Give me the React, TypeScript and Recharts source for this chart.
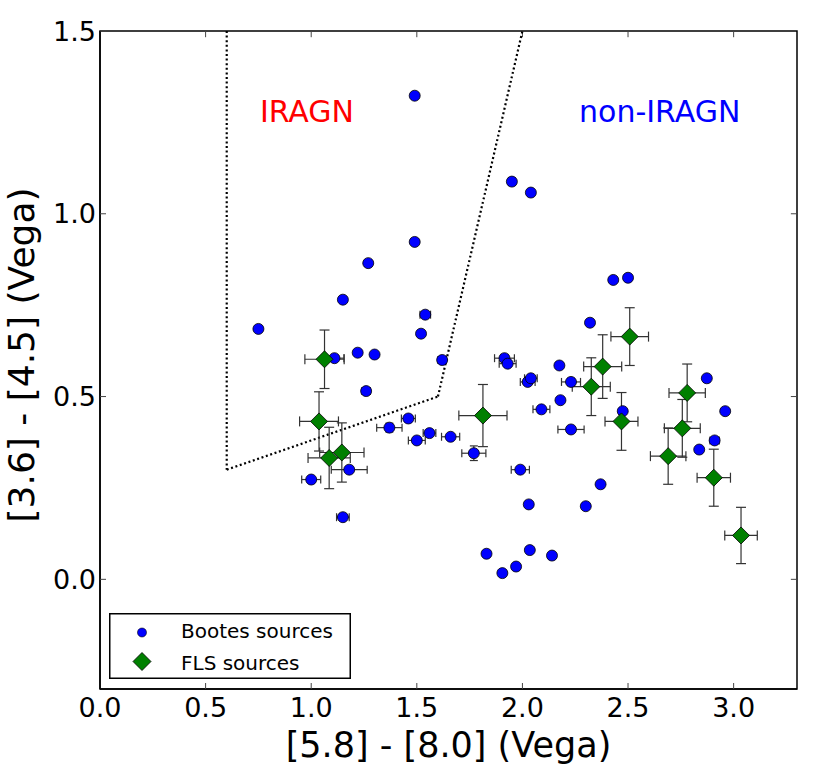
import {
  ScatterChart, Scatter, XAxis, YAxis, ErrorBar, ReferenceLine, ReferenceDot, ReferenceArea, Legend
} from 'recharts'

const FONT = '"DejaVu Sans", "Bitstream Vera Sans", sans-serif'

// Bootes sources
const bootesX = [
  0.75, 1.00, 1.11, 1.15, 1.15, 1.18, 1.22, 1.26, 1.27, 1.30,
  1.37, 1.46, 1.49, 1.49, 1.50, 1.52, 1.54, 1.56, 1.62, 1.66,
  1.77, 1.83, 1.905, 1.915, 1.93, 1.95, 1.97, 1.99, 2.025, 2.03,
  2.035, 2.04, 2.04, 2.09, 2.14, 2.175, 2.18, 2.23, 2.23, 2.30,
  2.32, 2.37, 2.43, 2.475, 2.50, 2.837, 2.873, 2.91, 2.96,
]
const bootesY = [
  0.685, 0.273, 0.605, 0.765, 0.17, 0.30, 0.62, 0.515, 0.865, 0.615,
  0.415, 0.44, 1.323, 0.923, 0.38, 0.672, 0.724, 0.40, 0.60, 0.39,
  0.345, 0.07, 0.017, 0.605, 0.59, 1.088, 0.035, 0.30, 0.54, 0.205,
  0.08, 0.55, 1.058, 0.465, 0.065, 0.585, 0.49, 0.54, 0.41, 0.20,
  0.702, 0.26, 0.819, 0.46, 0.825, 0.355, 0.55, 0.38, 0.46,
]
const bootesXErr = [
  0, 0.045, 0.045, 0, 0.03, 0.085, 0, 0.02, 0.015, 0,
  0.06, 0.033, 0, 0, 0.04, 0, 0.025, 0.03, 0.02, 0.043,
  0.057, 0, 0, 0.047, 0.04, 0.015, 0, 0.043, 0.035, 0,
  0, 0.03, 0, 0.04, 0, 0, 0, 0.045, 0.062, 0,
  0, 0, 0, 0, 0, 0, 0, 0.022, 0,
]
const bootesYErr = [
  0, 0, 0, 0, 0, 0, 0, 0, 0, 0,
  0.012, 0, 0, 0, 0, 0, 0, 0, 0, 0,
  0.02, 0, 0, 0.01, 0, 0.01, 0, 0, 0, 0,
  0, 0, 0, 0, 0, 0, 0, 0.01, 0, 0,
  0, 0, 0, 0, 0, 0, 0, 0, 0,
]

// FLS sources
const flsX = [1.063, 1.037, 1.085, 1.145, 1.813, 2.326, 2.38, 2.469, 2.508, 2.69, 2.757, 2.78, 2.906, 3.035]
const flsY = [0.602, 0.432, 0.332, 0.347, 0.448, 0.527, 0.582, 0.432, 0.664, 0.337, 0.413, 0.51, 0.278, 0.12]
const flsXErr = [0.093, 0.092, 0.10, 0.105, 0.114, 0.09, 0.09, 0.078, 0.089, 0.084, 0.085, 0.086, 0.079, 0.077]
const flsYErr = [0.08, 0.081, 0.084, 0.081, 0.085, 0.079, 0.087, 0.079, 0.079, 0.077, 0.079, 0.079, 0.078, 0.077]

// IRAGN wedge vertices
const wedgeX = [0.6, 0.6, 1.6, 2.0]
const wedgeY = [1.5, 0.3, 0.5, 1.5]

const xDomain = [0, 3.3]
const yDomain = [-0.3, 1.5]
const xTicks = [0, 0.5, 1.0, 1.5, 2.0, 2.5, 3.0]
const yTicks = [0, 0.5, 1.0, 1.5]

const bootes = bootesX.map((x, i) => ({ x, y: bootesY[i], xErr: bootesXErr[i], yErr: bootesYErr[i] }))
const fls = flsX.map((x, i) => ({ x, y: flsY[i], xErr: flsXErr[i], yErr: flsYErr[i] }))
const wedge = wedgeX.slice(1).map((x, i) => [
  { x: wedgeX[i], y: wedgeY[i] },
  { x, y: wedgeY[i + 1] },
])

// inward tick marks on the top and right edges (about 6px long)
const topTicks = xTicks.slice(1).map((t) => [
  { x: t, y: yDomain[1] }, { x: t, y: yDomain[1] - 0.017 },
])
const rightTicks = yTicks.slice(0, -1).map((t) => [
  { x: xDomain[1], y: t }, { x: xDomain[1] - 0.029, y: t },
])

const Circle = (p: any) => (
  <circle cx={p.cx} cy={p.cy} r={5.5} fill="#0000ff" stroke="#000" strokeWidth={0.8} />
)

const Diamond = (p: any) => {
  const s = 8.5
  return (
    <polygon
      points={`${p.cx},${p.cy - s} ${p.cx + s},${p.cy} ${p.cx},${p.cy + s} ${p.cx - s},${p.cy}`}
      fill="#008000" stroke="#000" strokeWidth={0.8}
    />
  )
}

const YLabel = (props: any) => {
  const vb = props.viewBox
  const cx = vb.x + 34
  const cy = vb.y + vb.height / 2 - 5
  return (
    <text x={cx} y={cy} transform={`rotate(-90 ${cx} ${cy})`} textAnchor="middle"
      fontSize={36} fontFamily={FONT} fill="#000">
      [3.6] - [4.5] (Vega)
    </text>
  )
}

const LegendBox = () => (
  <svg width={242} height={66} style={{ display: 'block' }}>
    <rect x={0.75} y={0.75} width={240.5} height={64.5} fill="#fff" stroke="#000" strokeWidth={1.5} />
    <circle cx={33} cy={19.5} r={4.5} fill="#0000ff" stroke="#000" strokeWidth={0.6} />
    <text x={72} y={25} fontSize={20} fontFamily={FONT} fill="#000">Bootes sources</text>
    <polygon points="33,39.5 42,48.5 33,57.5 24,48.5" fill="#008000" stroke="#000" strokeWidth={0.8} />
    <text x={72} y={57} fontSize={20} fontFamily={FONT} fill="#000">FLS sources</text>
  </svg>
)

const tickStyle = { fontSize: 27, fill: '#000', fontFamily: FONT }
const dotted = { stroke: '#000', strokeWidth: 2.2, strokeDasharray: '2 2.6' }

export default function App() {
  return (
    <div style={{ position: 'absolute', left: 0, top: 0, background: '#fff' }}>
      <ScatterChart width={830} height={775} margin={{ top: 31, right: 33, bottom: 0, left: 0 }}>
        <XAxis
          type="number" dataKey="x" domain={xDomain} ticks={xTicks} interval={0}
          allowDataOverflow height={86} tickSize={-6} tickMargin={15}
          tickFormatter={(v: number) => v.toFixed(1)} tick={tickStyle}
          stroke="#000" axisLine={{ stroke: '#000', strokeWidth: 1.5 }} tickLine={{ stroke: '#444' }}
          label={{ value: '[5.8] - [8.0] (Vega)', position: 'insideBottom', offset: 18, fontSize: 35, fill: '#000', fontFamily: FONT }}
        />
        <YAxis
          type="number" dataKey="y" domain={yDomain} ticks={yTicks} interval={0}
          allowDataOverflow width={100} tickSize={-6} tickMargin={10}
          tickFormatter={(v: number) => v.toFixed(1)} tick={tickStyle}
          stroke="#000" axisLine={{ stroke: '#000', strokeWidth: 1.5 }} tickLine={{ stroke: '#444' }}
          label={{ content: YLabel }}
        />
        <ReferenceArea x1={xDomain[0]} x2={xDomain[1]} y1={yDomain[0]} y2={yDomain[1]}
          fill="none" fillOpacity={0} stroke="#000" strokeWidth={1.5} strokeOpacity={1} ifOverflow="visible" />
        {topTicks.map((seg, i) => (
          <ReferenceLine key={`t${i}`} segment={seg} ifOverflow="visible" stroke="#444" strokeWidth={1} />
        ))}
        {rightTicks.map((seg, i) => (
          <ReferenceLine key={`r${i}`} segment={seg} ifOverflow="visible" stroke="#444" strokeWidth={1} />
        ))}
        {wedge.map((seg, i) => (
          <ReferenceLine key={`w${i}`} segment={seg} ifOverflow="visible" {...dotted} />
        ))}
        <ReferenceDot x={0.98} y={1.279} r={1} fill="none" stroke="none"
          label={{ value: 'IRAGN', position: 'center', fontSize: 30, fill: '#ff0000', fontFamily: FONT }} />
        <ReferenceDot x={2.65} y={1.279} r={1} fill="none" stroke="none"
          label={{ value: 'non-IRAGN', position: 'center', fontSize: 30, fill: '#0000ff', fontFamily: FONT }} />
        <Scatter name="Bootes sources" data={bootes} shape={Circle} isAnimationActive={false}>
          <ErrorBar dataKey="xErr" direction="x" width={4} stroke="#333" strokeWidth={1.2} isAnimationActive={false} />
          <ErrorBar dataKey="yErr" direction="y" width={4} stroke="#333" strokeWidth={1.2} isAnimationActive={false} />
        </Scatter>
        <Scatter name="FLS sources" data={fls} shape={Diamond} isAnimationActive={false}>
          <ErrorBar dataKey="xErr" direction="x" width={5} stroke="#333" strokeWidth={1.2} isAnimationActive={false} />
          <ErrorBar dataKey="yErr" direction="y" width={5} stroke="#333" strokeWidth={1.2} isAnimationActive={false} />
        </Scatter>
        <Legend
          layout="vertical" align="center" verticalAlign="middle"
          wrapperStyle={{ position: 'absolute', left: 109, top: 613, width: 242, height: 66 }}
          content={LegendBox}
        />
      </ScatterChart>
    </div>
  )
}
